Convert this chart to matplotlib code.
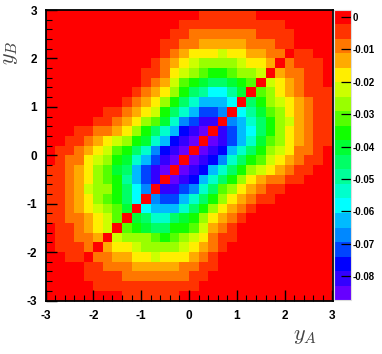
"""
y_A - y_B correlation map (30x30 bins) with stepped rainbow palette
"""
import numpy as np
import matplotlib
matplotlib.use("Agg")
import matplotlib.pyplot as plt
from matplotlib.colors import ListedColormap, BoundaryNorm

plt.rcParams["font.family"] = ["Liberation Sans", "DejaVu Sans"]
plt.rcParams["font.weight"] = "bold"
plt.rcParams["axes.unicode_minus"] = False
plt.rcParams["mathtext.fontset"] = "cm"

# palette steps (top to bottom)
palette = ["#ff0000", "#ff3300", "#ff7700", "#ffaa00", "#ffee00", "#ccff00", "#99ff00",
           "#55ff00", "#11ff00", "#00ff33", "#00ff66", "#00ff99", "#00ffcc", "#00ffff",
           "#00bbff", "#0088ff", "#0044ff", "#0000ff", "#3300ff", "#6600ff"]
z_top = 0.0022
z_step = 0.00448
cbar_ticks = [0, -0.01, -0.02, -0.03, -0.04, -0.05, -0.06, -0.07, -0.08]
cbar_labels = ["0", "-0.01", "-0.02", "-0.03", "-0.04", "-0.05", "-0.06", "-0.07", "-0.08"]
axis_ticks = [-3, -2, -1, 0, 1, 2, 3]

# palette step of each bin, top row (y_B = 3) first, left column (y_A = -3) first
z_steps = [
    [0,0,0,0,0,0,0,0,0,0,0,0,0,0,0,0,1,1,1,1,1,1,0,0,0,0,0,0,0,0],
    [0,0,0,0,0,0,0,0,0,0,0,0,0,0,1,1,1,1,1,1,1,1,1,1,1,0,0,0,0,0],
    [0,0,0,0,0,0,0,0,0,0,0,0,0,1,1,2,2,2,2,2,2,2,1,1,1,1,0,0,0,0],
    [0,0,0,0,0,0,0,0,0,0,0,0,1,1,2,2,3,3,3,3,3,2,2,2,1,1,0,0,0,0],
    [0,0,0,0,0,0,0,0,0,0,0,0,1,2,3,4,4,4,5,4,4,3,3,2,2,0,1,1,0,0],
    [0,0,0,0,0,0,0,0,0,0,0,1,2,3,4,5,6,6,6,6,5,4,4,3,0,2,1,1,1,0],
    [0,0,0,0,0,0,0,0,0,0,1,1,2,4,5,6,7,8,8,7,6,6,5,0,3,2,2,1,1,0],
    [0,0,0,0,0,0,0,0,0,0,1,2,3,5,7,8,9,10,10,9,8,7,0,5,4,3,2,1,1,0],
    [0,0,0,0,0,0,0,0,0,1,2,3,4,6,8,10,11,13,13,11,9,0,7,6,4,3,2,1,1,1],
    [0,0,0,0,0,0,0,0,1,2,3,4,6,8,10,12,14,14,14,13,0,10,8,6,5,4,3,2,1,1],
    [0,0,0,0,0,0,1,1,2,3,4,5,8,10,12,14,16,16,15,0,13,11,9,7,6,4,3,2,1,1],
    [0,0,0,0,0,1,1,2,3,4,6,7,9,12,15,16,18,18,0,15,14,12,10,8,6,5,3,2,1,1],
    [0,0,0,1,1,2,2,3,4,6,8,10,12,14,17,18,19,0,18,16,14,13,10,8,6,4,3,2,1,1],
    [0,0,1,1,2,3,4,5,6,8,9,12,14,17,18,19,0,19,18,16,14,12,9,7,6,4,3,2,1,1],
    [0,1,1,2,3,4,5,7,8,10,12,15,17,18,19,0,19,18,17,14,12,10,8,6,5,4,2,2,1,0],
    [0,1,2,2,4,5,6,8,9,12,14,16,18,19,0,19,18,17,15,12,10,8,7,5,4,3,2,1,1,0],
    [1,1,2,3,4,6,7,9,10,14,16,18,19,0,19,18,17,14,12,10,8,6,5,4,3,2,1,1,0,0],
    [1,1,2,3,4,6,7,8,11,14,16,18,0,19,18,17,14,12,10,8,6,4,3,2,2,1,1,0,0,0],
    [1,1,2,3,5,6,6,8,10,13,15,0,18,18,16,15,12,10,7,6,4,3,2,1,1,0,0,0,0,0],
    [1,1,2,3,4,6,7,8,10,13,0,15,16,16,14,12,10,8,6,4,3,2,1,1,0,0,0,0,0,0],
    [1,1,2,3,4,5,6,7,9,0,13,14,14,14,12,10,8,6,4,3,2,1,0,0,0,0,0,0,0,0],
    [1,1,2,2,3,4,5,7,0,9,10,12,12,10,9,8,6,4,3,2,1,0,0,0,0,0,0,0,0,0],
    [0,1,1,2,3,4,5,0,7,8,9,10,10,8,8,7,5,3,2,1,0,0,0,0,0,0,0,0,0,0],
    [0,1,1,2,2,3,0,5,6,6,6,7,8,7,6,5,4,2,1,1,0,0,0,0,0,0,0,0,0,0],
    [0,1,1,1,2,0,3,4,4,5,6,6,6,6,5,4,3,2,1,0,0,0,0,0,0,0,0,0,0,0],
    [0,0,1,1,0,2,2,3,3,4,4,5,4,4,4,3,2,1,0,0,0,0,0,0,0,0,0,0,0,0],
    [0,0,0,0,1,1,2,2,2,3,3,3,3,3,2,2,1,1,0,0,0,0,0,0,0,0,0,0,0,0],
    [0,0,0,0,1,1,1,1,2,2,2,2,2,2,2,1,1,0,0,0,0,0,0,0,0,0,0,0,0,0],
    [0,0,0,0,0,1,1,1,1,1,1,1,1,1,1,1,0,0,0,0,0,0,0,0,0,0,0,0,0,0],
    [0,0,0,0,0,0,0,0,1,1,1,1,1,1,0,0,0,0,0,0,0,0,0,0,0,0,0,0,0,0],
]

W, H = 382, 354
fig = plt.figure(figsize=(W / 100, H / 100), dpi=100)
ax = fig.add_axes([45.5 / W, 1 - 300.5 / H, 287 / W, 290.5 / H])
cax = fig.add_axes([334 / W, 1 - 300 / H, 17 / W, 290 / H])

steps = np.array(z_steps)[::-1]
z = z_top - (steps + 0.5) * z_step
edges = np.linspace(-3, 3, 31)
bounds = z_top - np.arange(len(palette) + 1)[::-1] * z_step
cmap = ListedColormap(palette[::-1])
norm = BoundaryNorm(bounds, cmap.N)
mesh = ax.pcolormesh(edges, edges, z, cmap=cmap, norm=norm, antialiased=False)

ax.set_xlim(-3, 3)
ax.set_ylim(-3, 3)
ax.set_xticks(axis_ticks)
ax.set_yticks(axis_ticks)
ax.set_xticks(np.arange(-3, 3.01, 0.2), minor=True)
ax.set_yticks(np.arange(-3, 3.01, 0.2), minor=True)
ax.tick_params(which="major", direction="in", length=8, width=1, labelsize=8.5)
ax.tick_params(which="minor", direction="in", length=4, width=0.8)
ax.tick_params(axis="x", which="major", pad=7)
ax.tick_params(axis="y", which="major", pad=6)
for side in ax.spines.values():
    side.set_linewidth(1.3)

cb = fig.colorbar(mesh, cax=cax, ticks=cbar_ticks, spacing="proportional")
cb.ax.set_yticklabels(cbar_labels)
cb.ax.tick_params(direction="in", length=7, width=0.9, labelsize=7, pad=1.5, color="black")
cb.ax.minorticks_off()
cb.outline.set_edgecolor("#dddddd")
cb.outline.set_linewidth(0.8)

fig.text(305 / W, 1 - 340 / H, r"$y_A$", fontsize=16, color="#444444", ha="center", va="baseline")
fig.text(20 / W, 1 - 53 / H, r"$y_B$", fontsize=16, color="#444444", rotation=90, ha="right", va="center")

fig.savefig("out.png", dpi=100)
